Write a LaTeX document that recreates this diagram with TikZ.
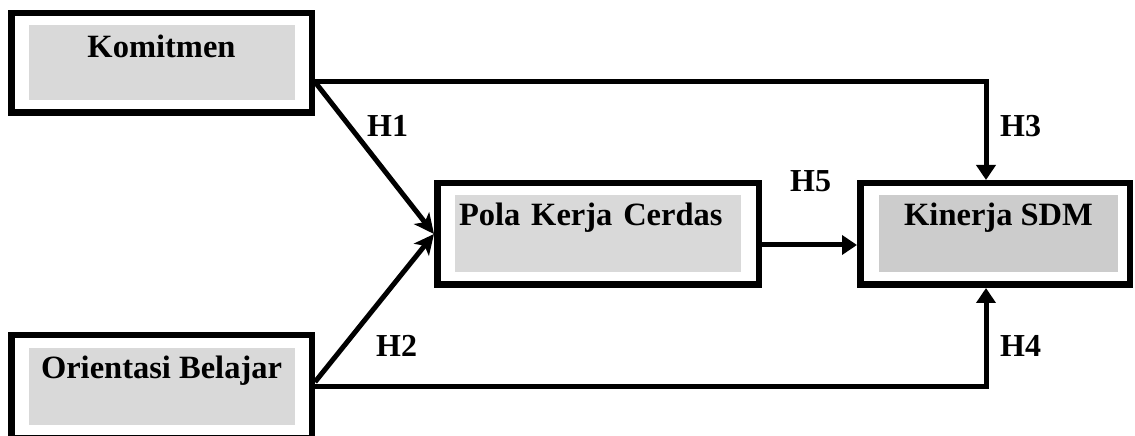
\documentclass[tikz,border=0pt]{standalone}
\usepackage{fontspec}
\setmainfont{Liberation Serif}
\usepackage{tikz}
\usetikzlibrary{arrows.meta, positioning}
\definecolor{abu}{HTML}{D9D9D9}
\definecolor{abutua}{HTML}{CCCCCC}
\tikzset{
	variabel/.style={
		rectangle, 
		draw=black, 
		line width=6.5pt, 
		minimum height=99.5pt
	},
	isi/.style={
		rectangle, 
		fill=abu, 
		inner sep=0pt, 
		text height=30pt, 
		text depth=47pt, 
		text centered, 
		font=\bfseries\fontsize{32.5}{36}\selectfont
	},
	hipotesis/.style={
		anchor=base west, 
		inner sep=0pt, 
		font=\bfseries\fontsize{32}{36}\selectfont
	},
	arrow/.style={line width=5pt,-{Triangle[length=15pt,width=19pt]}},
	miring/.style={line width=5pt,-{Stealth[length=20pt,width=19pt,inset=5pt]}}
}

\begin{document}
\begin{tikzpicture}[x=1pt, y=1pt]
				\useasboundingbox (0,0) rectangle (1135,436);
				\node (kom) [variabel, minimum width=300.5pt] at (161.5,373) {};
				\node (ori) [variabel, minimum width=300.5pt, minimum height=103.5pt, below=216pt of kom] {};
				\node (pola) [variabel, minimum width=321.5pt, minimum height=101.5pt] at (598,202) {};
				\node (kin) [variabel, minimum width=269.5pt, minimum height=101.5pt, right=95pt of pola] {};
				
				\node (kom-isi) [isi, minimum width=266pt, text height=32pt, text depth=43pt] at (kom) {Komitmen};
				\node (ori-isi) [isi, minimum width=266pt] at (ori) {Orientasi Belajar};
				\node (pola-isi) [isi, text width=278pt, inner xsep=4pt, align=left] at (pola) {Pola Kerja Cerdas};
				\node (kin-isi) [isi, fill=abutua, minimum width=239pt] at ([xshift=3.5pt]kin) {Kinerja SDM};
				
				\coordinate (kom-out) at ([yshift=-19pt]kom.east);
				\coordinate (pola-out) at ([yshift=-11pt]pola.east);
				\coordinate (kin-atas) at ([xshift=-9pt]kin.north);
				\coordinate (kin-bawah) at ([xshift=-9pt]kin.south);
				
				\draw [arrow] (kom-out) -| (kin-atas);
				\draw [miring] (kom-out) -- (pola.west);
				\draw [miring] ([yshift=5pt]ori.east) -- (pola.west);
				\draw [arrow] (ori.east) -| (kin-bawah);
				\draw [arrow] (pola-out) -- (pola-out -| kin.west);
				
				\node (h1) [hipotesis] at (367,299) {H1};
				\node (h2) [hipotesis] at (376,79) {H2};
				\node (h3) [hipotesis] at (1000,299) {H3};
				\node (h4) [hipotesis] at (1000,79) {H4};
				\node (h5) [hipotesis] at (790,244) {H5};
			\end{tikzpicture}
\end{document}
